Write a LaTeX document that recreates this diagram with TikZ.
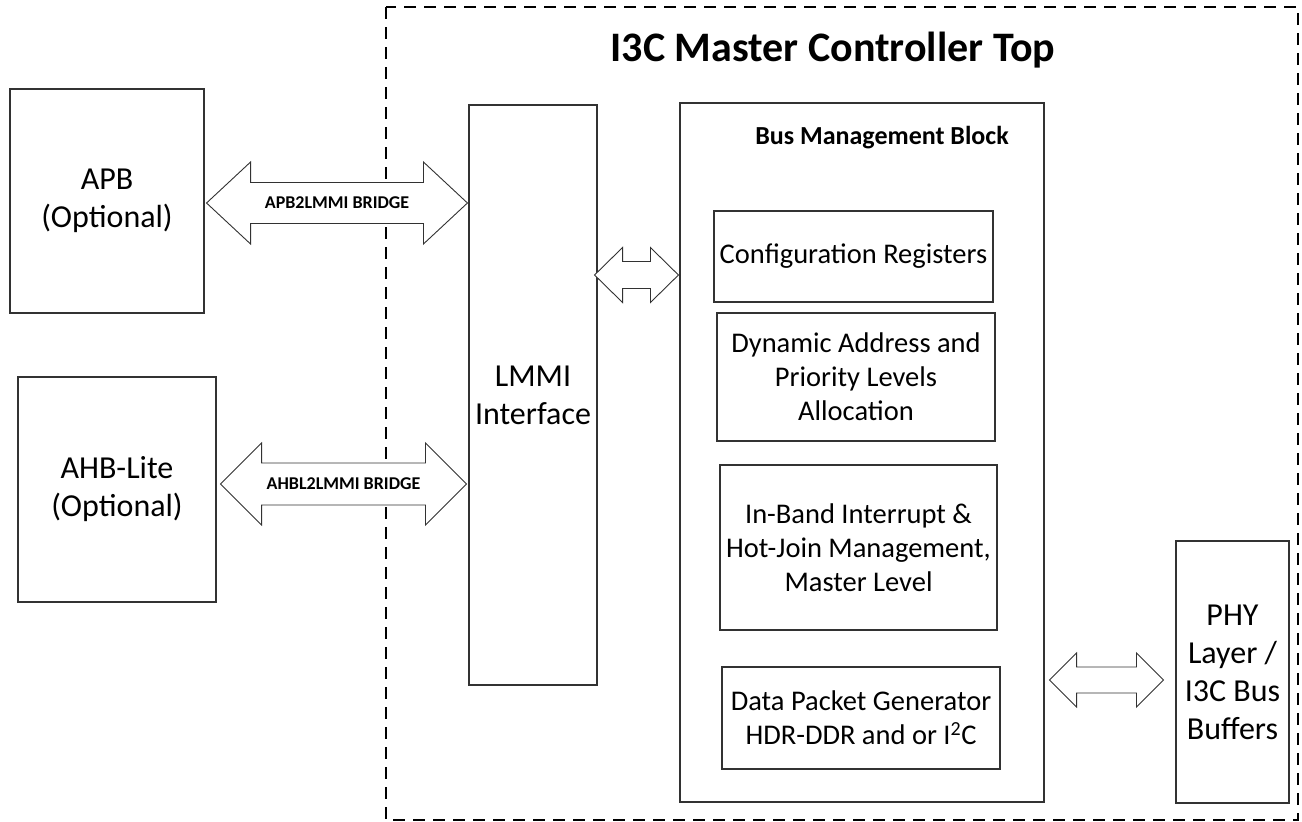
\documentclass[tikz,border=0pt]{standalone}
\usepackage{fontspec}
\setmainfont{Carlito}
\usepackage{tikz}
\usetikzlibrary{calc}
\definecolor{I3CLineColor}{RGB}{50,50,50}

% double-headed block arrow between two tips
% #1 left tip, #2 right tip, #3 head length, #4 head half width, #5 shaft half width
\newcommand{\blockarrow}[5]{%
  \draw[barrow] (#1) -- ($(#1)+(#3,-#4)$) -- ($(#1)+(#3,-#5)$) -- ($(#2)+(-#3,-#5)$)
    -- ($(#2)+(-#3,-#4)$) -- (#2) -- ($(#2)+(-#3,#4)$) -- ($(#2)+(-#3,#5)$)
    -- ($(#1)+(#3,#5)$) -- ($(#1)+(#3,#4)$) -- cycle;}

\begin{document}
\begin{tikzpicture}[x=1pt,y=-1pt,
  blk/.style n args={2}{draw=I3CLineColor,line width=1.1pt,rectangle,minimum width=#1,minimum height=#2,inner sep=0pt,align=center},
  outertxt/.style={font=\fontsize{32}{38}\selectfont},
  innertxt/.style={font=\fontsize{28.5}{34}\selectfont},
  barrow/.style={draw=I3CLineColor,line width=0.9pt,fill=white,line join=miter}]
\useasboundingbox (0,0) rectangle (1302,822);
% top level frame
\draw[line width=1.6pt,dash pattern=on 12pt off 8pt] (386,7) rectangle (1298,820);
\node[font=\fontsize{42}{48}\selectfont\bfseries] (title) at (833,50) {I3C Master Controller Top};
% host interfaces
\node[blk={194}{224},outertxt] (apb) at (107,201) {APB\\(Optional)};
\node[blk={198}{225},outertxt] (ahb) at (117,489.5) {AHB-Lite\\(Optional)};
\node[blk={128}{580},outertxt] (lmmi) at (533,395) {LMMI\\Interface};
% bus management
\node[blk={364}{699}] (bmb) at (862,452.5) {};
\node[font=\fontsize{26}{30}\selectfont\bfseries] (bmbl) at (882,138) {Bus Management Block};
\node[blk={279}{91},innertxt] (cfg) at (853.5,256.5) {Configuration Registers};
\node[blk={278}{128},innertxt] (dyn) at (856,377) {Dynamic Address and\\Priority Levels\\Allocation};
\node[blk={277}{165},innertxt] (ibi) at (858.5,547.5) {In-Band Interrupt \&\\Hot-Join Management,\\Master Level};
\node[blk={278}{102},innertxt] (dpg) at (861,718) {Data Packet Generator\\HDR-DDR and or I\textsuperscript{2}C};
\node[blk={113}{262},outertxt] (phy) at (1232.5,672) {PHY\\Layer /\\I3C Bus\\Buffers};
% arrows
\coordinate (apbL) at ([xshift=2pt]apb.east |- 0,203);
\coordinate (apbR) at ([xshift=-1pt]lmmi.west |- apbL);
\coordinate (ahbL) at ([xshift=4pt]ahb.east |- 0,484);
\coordinate (ahbR) at ([xshift=-2pt]lmmi.west |- ahbL);
\coordinate (lmL) at ([xshift=-3pt]lmmi.east |- 0,275);
\coordinate (lmR) at ([xshift=-1pt]bmb.west |- lmL);
\coordinate (phL) at ([xshift=5pt]bmb.east |- 0,680);
\coordinate (phR) at ([xshift=-12pt]phy.west |- phL);
\blockarrow{apbL}{apbR}{44}{41}{20.5}
\blockarrow{ahbL}{ahbR}{41}{41}{21}
\blockarrow{lmL}{lmR}{28}{27.5}{13.5}
\blockarrow{phL}{phR}{27}{27}{13}
\node[font=\fontsize{18}{21}\selectfont\bfseries] (apbbr) at ($(apbL)!0.5!(apbR)$) {APB2LMMI BRIDGE};
\node[font=\fontsize{18}{21}\selectfont\bfseries] (ahbbr) at ($(ahbL)!0.5!(ahbR)$) {AHBL2LMMI BRIDGE};
\end{tikzpicture}
\end{document}
